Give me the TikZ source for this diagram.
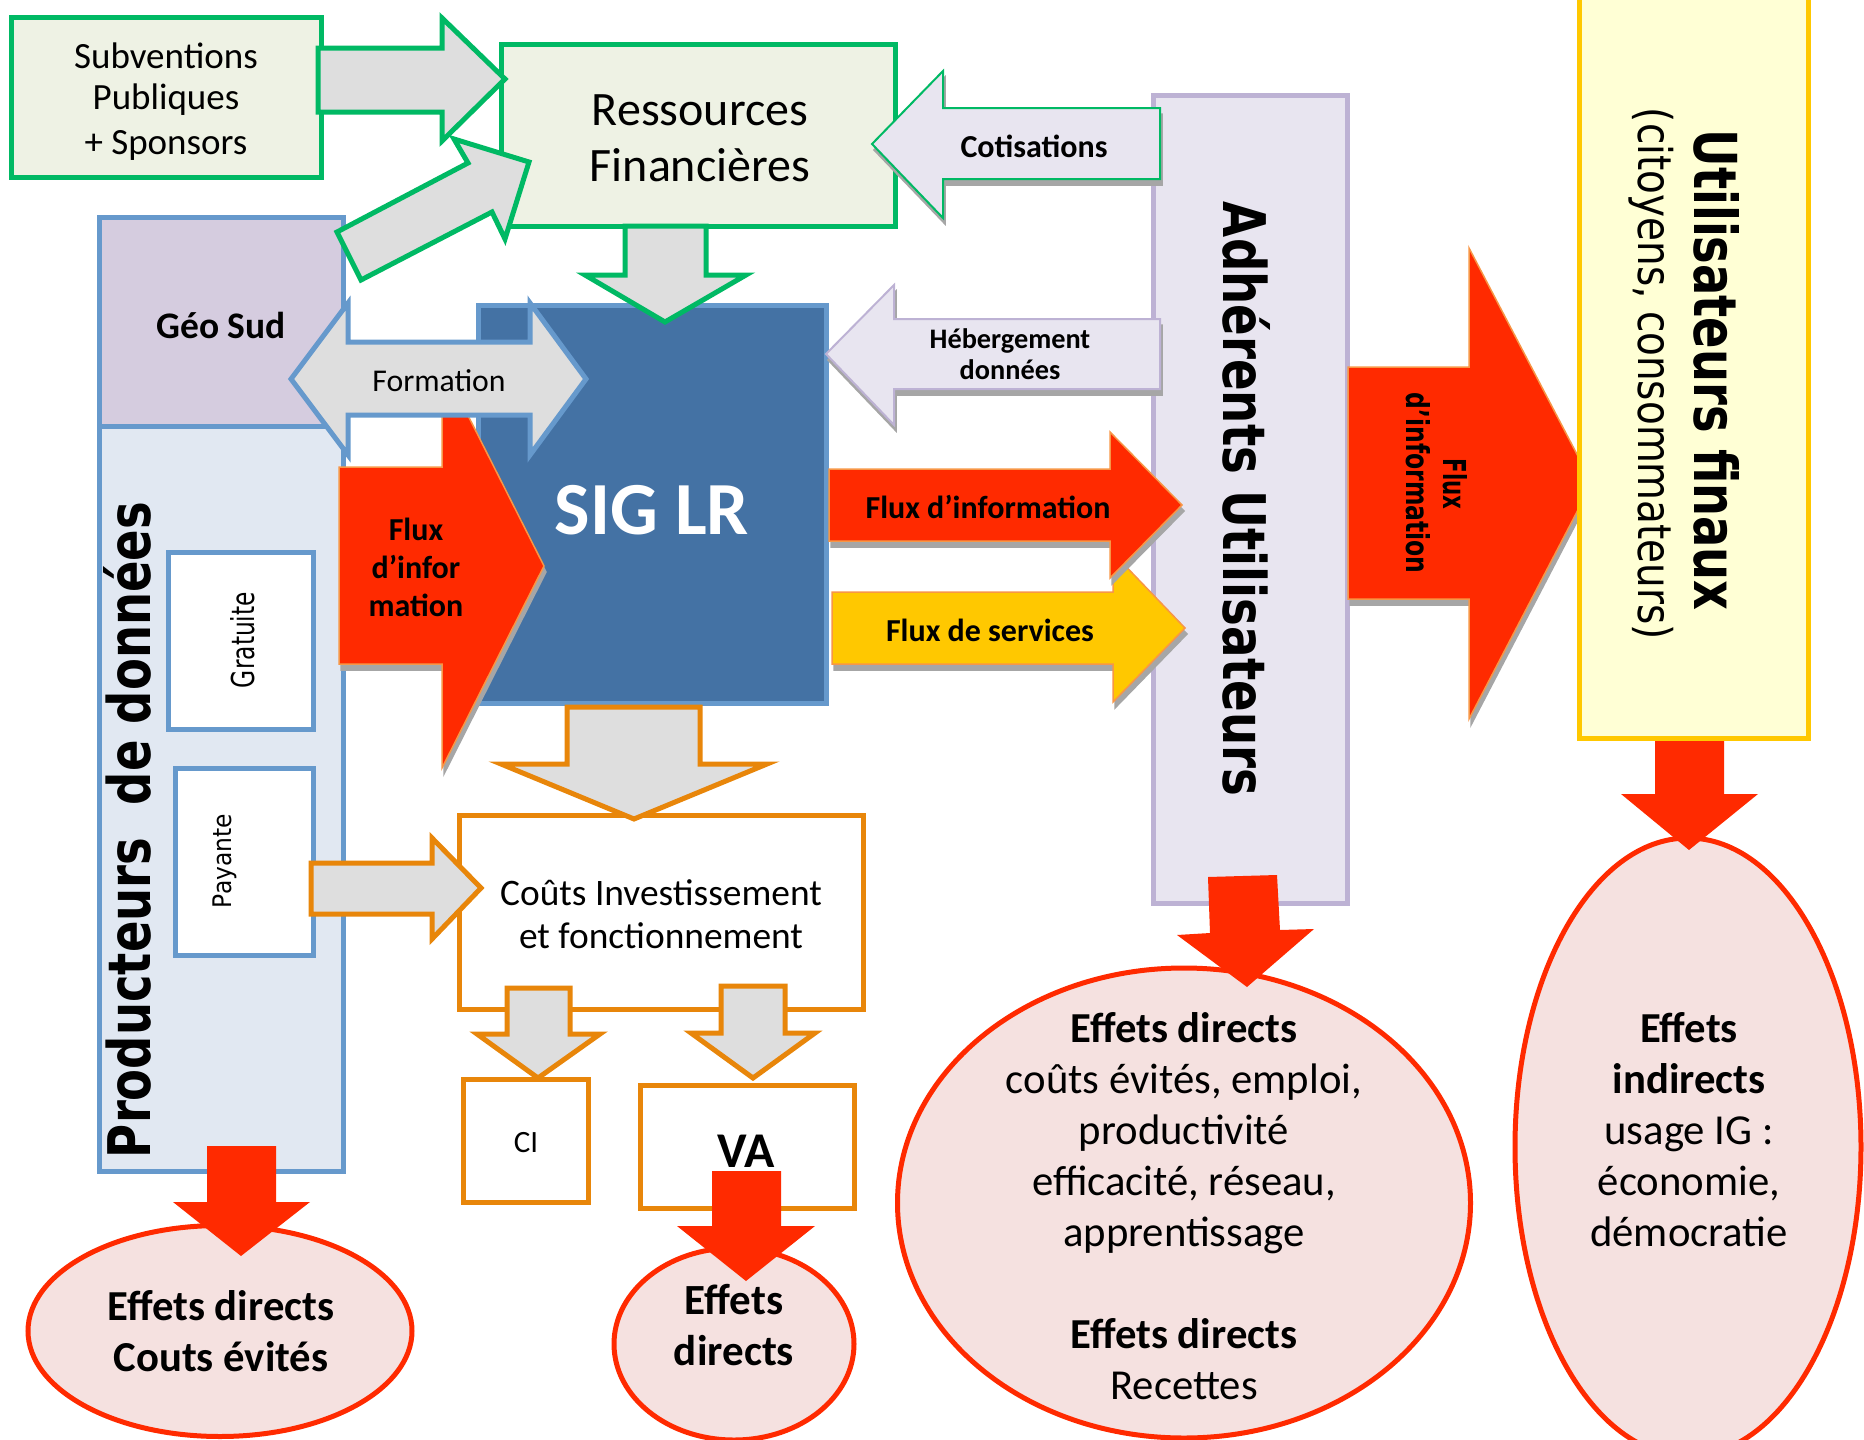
\documentclass[tikz,border=0pt]{standalone}
\usepackage{fontspec}
\setmainfont{Carlito}
\newfontfamily\rotfont{DejaVu Sans}
\usetikzlibrary{shapes.geometric}
\definecolor{cgreen}{HTML}{00B964}
\definecolor{cgreenfill}{HTML}{EEF2E4}
\definecolor{cblue}{HTML}{6699CC}
\definecolor{cgeo}{HTML}{D5CCDF}
\definecolor{cprod}{HTML}{E1E8F2}
\definecolor{csig}{HTML}{4472A4}
\definecolor{cgrey}{HTML}{DEDEDE}
\definecolor{clilac}{HTML}{BDB2D4}
\definecolor{clilacfill}{HTML}{E8E5F0}
\definecolor{cred}{HTML}{FF2A00}
\definecolor{cthin}{HTML}{F79646}
\definecolor{corange}{HTML}{E8860A}
\definecolor{cyell}{HTML}{FFC800}
\definecolor{cyellfill}{HTML}{FFFFD5}
\definecolor{cpink}{HTML}{F5E1E0}
\definecolor{cshadow}{HTML}{A6A6A6}
\newcommand\fsz[2]{\fontsize{#1}{#2}\selectfont}
\newcommand\rectnode[6]{\node[#1,minimum width={(#5-#3)*1pt},minimum height={(#6-#4)*1pt}] (#2) at ({(#3+#5)/2},{(#4+#6)/2}) {};}
\tikzset{
  x=1pt,y=-1pt,
  every node/.style={inner sep=0pt,outer sep=0pt,align=center},
  boxbase/.style={rectangle,draw,line width=5pt},
  greenbox/.style={boxbase,draw=cgreen,fill=cgreenfill},
  bluebox/.style={boxbase,draw=cblue,fill=cprod},
  geobox/.style={boxbase,draw=cblue,fill=cgeo},
  sigbox/.style={boxbase,draw=cblue,fill=csig},
  whitebox/.style={boxbase,draw=cblue,fill=white},
  lilacbox/.style={boxbase,draw=clilac,fill=clilacfill},
  yellbox/.style={boxbase,draw=cyell,fill=cyellfill},
  orangebox/.style={boxbase,draw=corange,fill=white},
  effet/.style={ellipse,draw=cred,fill=cpink,line width=5pt},
  greenarrow/.style={draw=cgreen,fill=cgrey,line width=5pt},
  bluearrow/.style={draw=cblue,fill=cgrey,line width=5pt},
  orangearrow/.style={draw=corange,fill=cgrey,line width=5pt},
  redarrow/.style={fill=cred,draw=cthin,line width=1.5pt},
  solidred/.style={fill=cred},
  yellarrow/.style={fill=cyell,draw=cthin,line width=1.5pt},
  cotarrow/.style={fill=clilacfill,draw=cgreen,line width=2pt},
  hebarrow/.style={fill=clilacfill,draw=clilac,line width=2pt},
  shadowed/.style={fill=cshadow,draw=cshadow,line width=1.5pt,xshift=2pt,yshift=-6pt},
}
\begin{document}
\begin{tikzpicture}
\path[use as bounding box,clip] (0,0) rectangle (1864,1440);
% top left
\rectnode{greenbox}{subv}{11}{17}{321}{177}
\rectnode{greenbox}{ress}{501}{44}{895}{226}
\rectnode{bluebox}{prod}{99}{426}{343}{1171}
\rectnode{geobox}{geo}{99}{217}{343}{426}
\rectnode{sigbox}{sig}{478}{305}{826}{703}
\rectnode{whitebox}{grat}{168}{552}{313}{729}
\rectnode{whitebox}{pay}{175}{768}{313}{955}
\rectnode{lilacbox}{adh}{1153}{95}{1347}{903}
% effects ellipses
\node[effet,minimum width=384pt,minimum height=211pt] (e1) at (220,1331) {};
\node[effet,minimum width=240pt,minimum height=192pt] (e2) at (734,1344) {};
\node[effet,minimum width=573pt,minimum height=470pt] (e3) at (1184,1203) {};
\node[effet,minimum width=346pt,minimum height=618pt] (e4) at (1688,1147) {};
% orange group
\rectnode{orangebox}{cout}{459}{815}{863}{1009}
\rectnode{orangebox}{ci}{463}{1079}{588}{1202}
\rectnode{orangebox}{va}{640}{1085}{854}{1208}
% green arrows
\draw[greenarrow] (318,48) -- (442,48) -- (442,18) -- (505,79) -- (442,141) -- (442,112) -- (318,112) -- cycle;
\draw[greenarrow] (337,232) -- (468,163) -- (454,139) -- (529,162) -- (505,239) -- (492,212) -- (361,280) -- cycle;
\draw[greenarrow] (625,226) -- (706,226) -- (706,275) -- (746,275) -- (665,322) -- (585,275) -- (625,275) -- cycle;
% left red arrow
\path[shadowed] (339,467) -- (442,467) -- (442,364) -- (544,566) -- (442,768) -- (442,664) -- (339,664) -- cycle;
\draw[redarrow] (339,467) -- (442,467) -- (442,364) -- (544,566) -- (442,768) -- (442,664) -- (339,664) -- cycle;
% formation
\draw[bluearrow] (291,379) -- (348,303) -- (348,342) -- (530,342) -- (530,303) -- (586,379) -- (530,455) -- (530,415) -- (348,415) -- (348,455) -- cycle;
% cotisations, hebergement
\path[shadowed] (872,144) -- (943,71) -- (943,108) -- (1160,108) -- (1160,179) -- (943,179) -- (943,218) -- cycle;
\draw[cotarrow] (872,144) -- (943,71) -- (943,108) -- (1160,108) -- (1160,179) -- (943,179) -- (943,218) -- cycle;
\path[shadowed] (826,354) -- (894,285) -- (894,319) -- (1160,319) -- (1160,389) -- (894,389) -- (894,425) -- cycle;
\draw[hebarrow] (826,354) -- (894,285) -- (894,319) -- (1160,319) -- (1160,389) -- (894,389) -- (894,425) -- cycle;
% services, info flows
\path[shadowed] (832,592) -- (1113,592) -- (1113,553) -- (1185,628) -- (1113,702) -- (1113,664) -- (832,664) -- cycle;
\draw[yellarrow] (832,592) -- (1113,592) -- (1113,553) -- (1185,628) -- (1113,702) -- (1113,664) -- (832,664) -- cycle;
\path[shadowed] (829,469) -- (1110,469) -- (1110,432) -- (1182,505) -- (1110,578) -- (1110,541) -- (829,541) -- cycle;
\draw[redarrow] (829,469) -- (1110,469) -- (1110,432) -- (1182,505) -- (1110,578) -- (1110,541) -- (829,541) -- cycle;
% big red
\path[shadowed] (1348,367) -- (1469,367) -- (1469,248) -- (1592,483) -- (1469,719) -- (1469,599) -- (1348,599) -- cycle;
\draw[redarrow] (1348,367) -- (1469,367) -- (1469,248) -- (1592,483) -- (1469,719) -- (1469,599) -- (1348,599) -- cycle;
\rectnode{yellbox}{fin}{1579}{-3}{1808}{738}
% orange arrows
\draw[orangearrow] (567,707) -- (700,707) -- (700,764) -- (767,764) -- (634,819) -- (501,764) -- (567,764) -- cycle;
\draw[orangearrow] (311,863) -- (432,863) -- (432,838) -- (481,888) -- (432,939) -- (432,914) -- (311,914) -- cycle;
\draw[orangearrow] (507,988) -- (570,988) -- (570,1034) -- (600,1034) -- (538,1078) -- (477,1034) -- (507,1034) -- cycle;
\draw[orangearrow] (721,986) -- (785,986) -- (785,1033) -- (815,1033) -- (753,1078) -- (691,1033) -- (721,1033) -- cycle;
% solid red arrows
\fill[solidred] (207,1146) -- (276,1146) -- (276,1202) -- (310,1202) -- (241,1256) -- (173,1202) -- (207,1202) -- cycle;
\fill[solidred] (1655,741) -- (1724,741) -- (1724,794) -- (1758,794) -- (1689,850) -- (1621,794) -- (1655,794) -- cycle;
\fill[solidred] (1208,877) -- (1277,875) -- (1280,930) -- (1314,929) -- (1247,987) -- (1177,935) -- (1210,933) -- cycle;
% labels
\node[font=\fsz{37}{45}] (tsubv) at (166,102) {Subventions\\[-4pt]Publiques\\+ Sponsors};
\node[font=\fsz{48}{56}] (tress) at (700,138) {Ressources\\Financières};
\node[font=\fsz{32}{32}\bfseries] (tcot) at (1034,146) {Cotisations};
\node[font=\fsz{28.3}{31}\bfseries] (theb) at (1010,354) {Hébergement\\données};
\node[font=\fsz{37.5}{37.5}\bfseries] (tgeo) at (221,325) {Géo Sud};
\node[font=\fsz{31.7}{31.7}] (tform) at (439,381) {Formation};
\node[font=\fsz{75}{75}\bfseries,text=white] (tsig) at (652,510) {SIG LR};
\node[font=\fsz{32}{38}\bfseries] (tflux) at (416,567) {Flux\\d’infor\\mation};
\node[font=\fsz{32}{32}\bfseries] (tinfo) at (988,507) {Flux d’information};
\node[font=\fsz{32}{32}\bfseries] (tserv) at (990,630) {Flux de services};
\node[rotate=90] (tprod) at (127,830) {\resizebox{656pt}{47pt}{\rotfont\bfseries Producteurs~~de données}};
\node[rotate=90] (tgrat) at (243,640) {\resizebox{96pt}{24pt}{\rotfont Gratuite}};
\node[rotate=90] (tpay) at (225,861) {\resizebox*{94pt}{24pt}{\rotfont Payante}};
\node[rotate=-90] (tadh) at (1247,499) {\resizebox{594pt}{47pt}{\rotfont\bfseries Adhérents Utilisateurs}};
\node[rotate=-90] (tfin) at (1717,370) {\resizebox{481pt}{45pt}{\rotfont\bfseries Utilisateurs finaux}};
\node[rotate=-90] (tcit) at (1651,374) {\resizebox*{532pt}{45pt}{\rotfont (citoyens, consommateurs)}};
\node[rotate=-90] (tbf1) at (1455,484) {\resizebox{51pt}{24pt}{\rotfont\bfseries Flux}};
\node[rotate=-90] (tbf2) at (1418,483) {\resizebox{181pt}{24pt}{\rotfont\bfseries d’information}};
\node[font=\fsz{37.4}{43}] (tcout) at (661,914) {Coûts Investissement\\et fonctionnement};
\node[font=\fsz{31}{31}] (tci) at (526,1143) {CI};
\node[font=\fsz{50}{50}\bfseries] (tva) at (746,1151) {VA};
\node[font=\fsz{42.7}{51}\bfseries] (te1) at (221,1331) {Effets directs\\Couts évités};
\node[font=\fsz{43}{51}\bfseries] (te2) at (734,1325) {Effets\\directs};
\node[font=\fsz{42.7}{51},anchor=north] (te3) at (1184,1012) {\textbf{Effets directs}\\coûts évités, emploi,\\productivité\\efficacité, réseau,\\apprentissage\\[51pt]\textbf{Effets directs}\\Recettes};
\node[font=\fsz{42.7}{51},anchor=north] (te4) at (1689,1012) {\textbf{Effets}\\\textbf{indirects}\\usage IG :\\économie,\\démocratie};
% arrow above VA text
\fill[solidred] (712,1171) -- (781,1171) -- (781,1226) -- (815,1226) -- (746,1281) -- (677,1226) -- (712,1226) -- cycle;
\end{tikzpicture}
\end{document}
